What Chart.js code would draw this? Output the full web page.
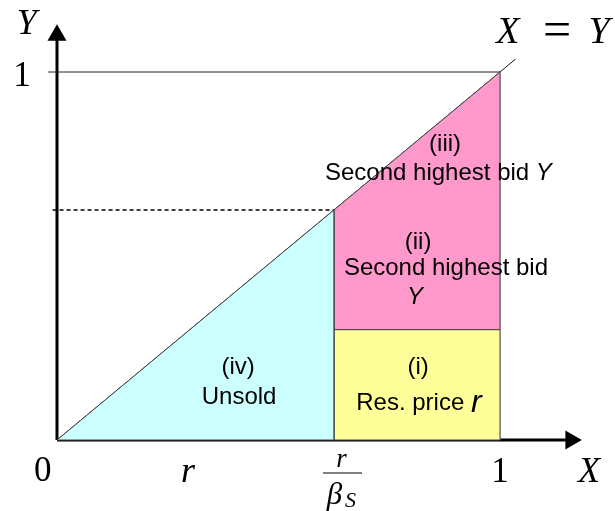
<!DOCTYPE html>
<html>
<head>
<meta charset="utf-8">
<script src="https://cdn.jsdelivr.net/npm/chart.js@4/dist/chart.umd.min.js"></script>
<style>
  html, body { margin: 0; padding: 0; background: #fff; }
  #wrap { width: 615px; height: 511px; }
</style>
</head>
<body>
<div id="wrap"><canvas id="diagram"></canvas></div>
<script>
// values (unit square, X and Y in [0,1])
const reservePrice = 0.3;      // r
const cutoff = 0.625;          // r / beta_S
const diagonalEnd = 1.035;     // X = Y line runs slightly past (1,1)
const xTickLabels = ['0', 'r', 'r/βS', '1'];
const xTickValues = [0, reservePrice, cutoff, 1];
const yTickLabels = ['1'];
const yTickValues = [1];

const unsoldRegion = [
  { x: 0, y: 0 }, { x: cutoff, y: 0 }, { x: cutoff, y: cutoff }, { x: 0, y: 0 }
];
const reserveRegion = [
  { x: cutoff, y: 0 }, { x: 1, y: 0 }, { x: 1, y: reservePrice },
  { x: cutoff, y: reservePrice }, { x: cutoff, y: 0 }
];
const secondBidRegion = [
  { x: cutoff, y: reservePrice }, { x: 1, y: reservePrice }, { x: 1, y: 1 },
  { x: cutoff, y: cutoff }, { x: cutoff, y: reservePrice }
];

function line(data, color, width, dash) {
  return {
    data, showLine: true, borderColor: color, borderWidth: width,
    borderDash: dash || [], pointRadius: 0, fill: false
  };
}

function region(data, color) {
  return {
    data, showLine: true, borderColor: '#444', borderWidth: 1,
    backgroundColor: color, fill: 'shape', pointRadius: 0
  };
}

const datasets = [
  region(unsoldRegion, '#CCFFFF'),
  region(secondBidRegion, '#FF99CC'),
  region(reserveRegion, '#FFFF99'),
  line([{ x: 1, y: 0 }, { x: 1, y: 1 }], '#999', 1),
  line([{ x: -0.02, y: 1 }, { x: 1, y: 1 }], '#222', 1),
  line([{ x: -0.01, y: cutoff }, { x: 1, y: cutoff }], '#000', 1.5, [4, 3]),
  line([{ x: 0, y: 0 }, { x: diagonalEnd, y: diagonalEnd }], '#111', 1),
  // axes with arrowheads
  {
    data: [{ x: 0, y: 0 }, { x: 0, y: 1.1 }], showLine: true, borderColor: '#000',
    borderWidth: 3, pointRadius: [0, 8], pointStyle: 'triangle',
    pointBackgroundColor: '#000', pointBorderColor: '#000', pointRotation: 0
  },
  {
    data: [{ x: 0, y: 0 }, { x: 1.16, y: 0 }], showLine: true, borderColor: '#000',
    borderWidth: 3, pointRadius: [0, 8], pointStyle: 'triangle',
    pointBackgroundColor: '#000', pointBorderColor: '#000', pointRotation: 90
  }
];

const serif = '"Liberation Serif", serif';
const sans = '"Liberation Sans", Arial, sans-serif';
const txt = '24px ' + sans;
const math = 'italic 36px ' + serif;
const digit = '35px ' + serif;

const labels = [
  { x: -0.068, y: 1.128, runs: [['Y', math]] },
  { x: yTickValues[0] - 1.079, y: 0.986, runs: [[yTickLabels[0], digit]] },
  { x: 1.018, y: 1.106, runs: [['X', 'italic 38px ' + serif]] },
  { x: 1.129, y: 1.106, runs: [['=', '50px ' + serif]] },
  { x: 1.2235, y: 1.106, runs: [['Y', 'italic 38px ' + serif]] },
  { x: xTickValues[0] - 0.032, y: -0.087, runs: [[xTickLabels[0], digit]] },
  { x: xTickValues[1] - 0.004, y: -0.089, runs: [[xTickLabels[1], math]] },
  { x: xTickValues[3], y: -0.089, runs: [[xTickLabels[3], digit]] },
  { x: 1.201, y: -0.089, runs: [['X', math]] },
  { x: 0.876, y: 0.802, runs: [['(iii)', txt]] },
  { x: 0.861, y: 0.7255, runs: [['Second highest bid ', txt], ['Y', 'italic ' + txt]] },
  { x: 0.815, y: 0.538, runs: [['(ii)', txt]] },
  { x: 0.878, y: 0.467, runs: [['Second highest bid', txt]] },
  { x: 0.808, y: 0.389, runs: [['Y', 'italic ' + txt]] },
  { x: 0.409, y: 0.196, runs: [['(iv)', txt]] },
  { x: 0.411, y: 0.117, runs: [['Unsold', txt]] },
  { x: 0.815, y: 0.196, runs: [['(i)', txt]] },
  { x: 0.817, y: 0.10, runs: [['Res. price ', txt], ['r', 'italic 32px ' + sans]] }
];

const annotationPlugin = {
  id: 'annotations',
  afterDatasetsDraw(chart) {
    const { ctx, scales: { x, y } } = chart;
    ctx.save();
    ctx.fillStyle = '#000';
    ctx.textBaseline = 'middle';
    ctx.textAlign = 'left';
    labels.forEach(l => {
      let total = 0;
      l.runs.forEach(r => { ctx.font = r[1]; total += ctx.measureText(r[0]).width; });
      let px = x.getPixelForValue(l.x) - total / 2;
      const py = y.getPixelForValue(l.y);
      l.runs.forEach(r => {
        ctx.font = r[1];
        ctx.fillText(r[0], px, py);
        px += ctx.measureText(r[0]).width;
      });
    });

    // r / beta_S fraction under the cutoff
    const cx = x.getPixelForValue(xTickValues[2] + 0.0195);
    ctx.textAlign = 'center';
    ctx.font = 'italic 27px ' + serif;
    ctx.fillText('r', cx - 1, y.getPixelForValue(-0.054));
    const barY = y.getPixelForValue(-0.0897);
    ctx.strokeStyle = '#000';
    ctx.lineWidth = 1.2;
    ctx.beginPath();
    ctx.moveTo(cx - 19.5, barY);
    ctx.lineTo(cx + 19.5, barY);
    ctx.stroke();
    ctx.font = 'italic 31px ' + serif;
    ctx.fillText('β', cx - 8, y.getPixelForValue(-0.153));
    ctx.font = 'italic 22px ' + serif;
    ctx.fillText('S', cx + 8, y.getPixelForValue(-0.166));
    ctx.restore();
  }
};

new Chart(document.getElementById('diagram'), {
  type: 'scatter',
  data: { datasets },
  options: {
    responsive: true,
    maintainAspectRatio: false,
    animation: false,
    layout: { padding: 0, autoPadding: false },
    scales: {
      x: { type: 'linear', display: false, min: -57 / 443, max: 558 / 443 },
      y: { type: 'linear', display: false, min: -71 / 368, max: 440 / 368 }
    },
    plugins: {
      legend: { display: false },
      tooltip: { enabled: false }
    }
  },
  plugins: [annotationPlugin]
});
</script>
</body>
</html>
